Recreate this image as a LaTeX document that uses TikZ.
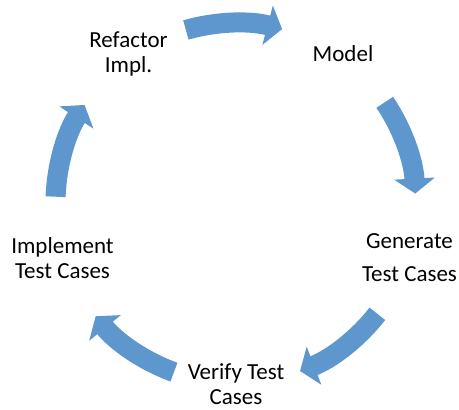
\documentclass[tikz,border=0pt]{standalone}
\usepackage{fontspec}
\setmainfont{Carlito}
\usetikzlibrary{calc,arrows.meta}
\definecolor{cycblue}{RGB}{94,151,206}

\begin{document}
\begin{tikzpicture}[x=0.5pt, y=0.5pt,
    lbl/.style={align=center, inner sep=0pt, font=\fontsize{11.5}{12.3}\selectfont},
    cyc/.style={draw=cycblue, line width=10pt, -{Triangle[width=20pt, length=7.5pt]}}]
  \useasboundingbox (0,0) rectangle (459,410);
  \coordinate (c) at (235.5,207);

  \node[lbl] (M) at (343,356.5) {Model};
  \node[lbl] (G) at (409.5,152) {Generate\\[4.2pt]Test Cases};
  \node[lbl] (V) at (236,26) {Verify Test\\Cases};
  \node[lbl] (I) at (62.5,152) {Implement\\Test Cases};
  \node[lbl] (R) at (128.5,356) {Refactor\\Impl.};

  \foreach \a in {106,34,-38,-110,-182}
    \draw[cyc] ($(c)+(\a:180)$) arc[start angle=\a, delta angle=-31, radius=180];
\end{tikzpicture}
\end{document}
